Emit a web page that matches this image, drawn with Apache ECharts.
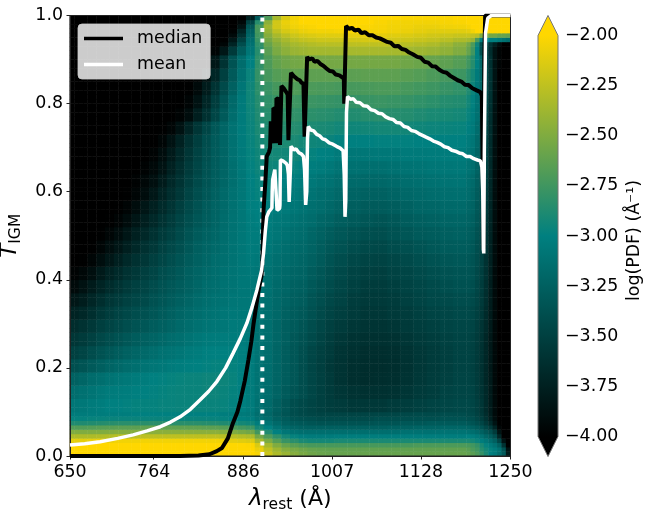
<!DOCTYPE html>
<html><head><meta charset="utf-8">
<style>html,body{margin:0;padding:0;background:#fff}#c{width:645px;height:513px}</style>
<script src="https://cdn.jsdelivr.net/npm/echarts@6/dist/echarts.min.js"></script>
</head><body><div id="c"></div>
<script>
var xTicks=[650,764,886,1007,1128,1250];
var lymanLimit=912;
// how many 6 A wavelength bins / 0.01 T bins each table cell covers
var colSpans=[2,2,2,2,2,2,2,2,2,2,2,2,2,2,2,2,2,2,2,2,2,2,2,2,2,2,2,2,2,2,3,3,3,3,3,3,3,3,3,3,1,1,1,1,1,1,1,1,1,1];
var rowSpans=[1,1,1,1,1,1,1,1,1,1,3,3,3,3,3,3,3,3,3,3,3,3,3,3,3,3,3,3,3,3,3,3,3,3,3,3,3,2,1,1,1,1,1,1,1];
// (log PDF + 4) * 100; rows from T=0 upward, columns from 650 A rightward
var pdfRows=[
[200,200,200,200,200,200,200,200,200,200,200,200,200,200,200,200,200,200,200,200,200, 197,180,168,160,152,147,143,141,140, 140,140,140,140,140,140,140,140,140,140, 138,135,130,120,110,100,95,85,70,20],
[200,200,200,200,200,200,200,200,200,200,200,200,200,200,200,200,200,200,200,200,200, 192,175,162,152,147,143,140,139,138, 138,138,138,138,138,138,138,138,138,138, 135,130,125,115,108,102,97,88,65,15],
[200,200,200,200,200,200,200,200,200,200,200,200,200,200,200,200,200,200,200,200,199, 185,165,150,140,134,130,128,128,128, 128,128,128,128,128,128,130,130,130,130, 128,125,120,110,102,95,88,75,40,0],
[190,190,191,192,193,195,195,195,195,195,195,195,195,195,195,195,195,193,190,188,186, 165,148,133,122,116,110,108,108,108, 110,110,110,110,110,110,110,110,110,110, 110,108,104,98,92,84,75,55,15,0],
[168,168,168,169,170,172,172,174,174,174,174,174,174,174,174,174,174,172,172,170,168, 145,130,118,108,102,98,96,96,96, 98,98,98,98,98,98,98,98,98,98, 100,98,94,88,80,72,60,30,0,0],
[150,150,150,150,151,152,152,152,154,154,154,154,154,154,154,154,154,152,150,147,144, 125,112,100,92,88,86,86,86,86, 86,86,86,86,86,88,88,88,90,90, 88,86,82,76,68,60,45,15,0,0],
[132,132,133,134,135,136,136,136,138,138,138,138,138,138,138,137,136,134,130,127,124, 108,100,90,82,78,75,74,74,74, 74,74,74,74,76,76,78,78,80,80, 78,75,70,64,55,45,28,5,0,0],
[112,112,113,114,115,116,116,116,116,116,116,116,116,116,116,115,114,112,110,108,106, 97,90,82,74,70,68,66,64,64, 64,64,64,66,66,68,68,70,70,70, 68,65,60,54,44,32,15,0,0,0],
[102,102,103,103,104,104,104,104,104,104,104,104,104,104,104,104,103,102,100,99,98, 90,84,76,70,64,62,60,58,58, 58,58,58,60,60,60,62,62,64,64, 62,60,55,48,38,25,10,0,0,0],
[96,96,97,97,98,98,98,99,100,100,100,100,100,100,100,100,100,98,96,95,94, 86,80,72,66,60,57,55,53,53, 53,53,53,54,55,56,58,58,60,60, 58,56,51,44,34,22,8,0,0,0],
[92,94,96,98,100,100,101,102,102,102,103,103,104,104,104,104,104,103,101,99,96, 88,82,74,67,60,56,53,50,48, 46,44,44,44,46,48,50,52,55,56, 56,54,49,42,32,21,8,0,0,0],
[85,88,91,94,96,97,98,99,100,101,102,103,104,104,104,105,105,104,102,100,96, 90,84,78,71,66,60,55,50,46, 42,40,38,38,39,42,45,48,52,54, 54,52,47,40,31,20,7,0,0,0],
[76,80,84,87,90,92,94,96,98,100,101,102,103,104,104,105,105,105,103,100,96, 90,85,79,73,67,60,55,50,45, 40,37,35,36,37,40,44,47,50,53, 53,51,46,39,30,20,7,0,0,0],
[62,66,70,74,78,81,84,87,90,92,94,96,98,99,100,101,102,102,102,100,96, 90,85,79,73,67,60,54,49,44, 40,37,35,35,36,39,43,46,49,52, 52,50,45,38,30,19,7,0,0,0],
[50,54,59,64,68,72,76,79,82,85,88,90,92,95,97,99,100,100,100,99,96, 90,85,79,73,67,61,55,50,46, 41,38,36,36,37,40,43,46,49,52, 52,50,45,38,30,19,7,0,0,0],
[42,46,51,56,60,64,68,72,75,78,81,84,87,90,93,95,96,97,97,97,95, 90,86,80,74,68,63,58,52,48, 43,40,38,38,39,42,45,48,51,53, 53,51,46,39,30,19,7,0,0,0],
[35,39,44,49,53,57,61,65,68,72,75,78,82,85,88,91,92,93,95,95,93, 90,86,80,74,70,66,60,55,50, 46,43,41,41,42,45,48,50,53,55, 55,53,48,41,32,20,7,0,0,0],
[27,31,37,43,48,52,56,60,63,67,71,75,79,82,85,88,90,92,94,94,93, 90,86,81,76,72,69,63,58,53, 49,46,43,43,45,47,50,53,55,57, 57,55,50,43,33,21,8,0,0,0],
[18,23,30,36,42,46,51,55,58,63,67,71,75,79,83,86,88,90,92,93,93, 90,87,82,78,74,72,66,61,56, 52,48,45,45,47,50,53,56,58,60, 60,58,53,45,35,22,8,0,0,0],
[8,14,21,28,34,40,45,50,54,59,64,68,72,76,80,84,86,89,91,93,93, 91,88,83,80,76,74,69,64,59, 55,51,47,47,49,52,55,58,61,63, 63,61,55,47,36,23,8,0,0,0],
[2,6,12,20,27,33,39,44,49,54,60,64,69,74,78,82,85,88,91,93,94, 92,89,85,82,79,77,72,67,62, 57,53,50,49,52,55,58,61,64,66, 66,63,57,49,38,24,8,0,0,0],
[0,1,5,11,18,25,32,38,43,49,55,60,66,71,76,80,84,87,90,93,95, 94,91,87,84,81,79,75,70,65, 60,56,53,52,55,58,61,64,67,69, 68,65,59,51,39,25,9,0,0,0],
[0,0,1,5,11,17,24,31,38,44,51,56,62,68,74,78,82,86,90,93,96, 95,93,89,86,83,81,77,73,68, 64,60,57,56,59,62,65,68,71,72, 71,68,61,53,41,26,9,0,0,0],
[0,0,0,1,5,10,17,25,31,38,45,51,58,65,71,76,80,85,89,93,97, 97,95,92,89,86,84,80,76,72, 68,65,62,61,64,67,70,72,74,76, 74,71,64,55,42,27,9,0,0,0],
[0,0,0,0,1,4,9,17,24,31,39,46,54,61,67,73,78,84,89,93,98, 99,97,94,92,89,87,84,80,77, 73,70,67,66,68,72,74,76,78,79, 77,74,67,57,44,28,10,0,0,0],
[0,0,0,0,0,1,4,10,17,25,33,41,49,57,64,71,77,83,88,93,99, 100,99,97,95,92,90,87,84,81, 77,74,71,71,73,76,79,80,82,83, 80,77,69,59,46,29,10,0,0,0],
[0,0,0,0,0,0,1,5,10,18,27,36,44,53,61,68,75,82,88,93,99, 102,102,100,98,95,93,90,87,85, 81,78,76,76,78,81,83,84,86,87, 84,80,72,61,48,30,10,0,0,0],
[0,0,0,0,0,0,0,2,6,12,21,31,40,49,58,66,73,80,87,93,100, 103,104,102,100,98,96,94,91,89, 85,83,81,81,83,85,87,88,90,91, 87,83,74,63,50,31,11,0,0,0],
[0,0,0,0,0,0,0,0,2,7,15,26,36,46,55,64,72,79,87,94,101, 105,106,105,103,102,100,98,96,94, 90,88,87,87,88,90,91,92,93,94, 90,86,77,65,51,32,11,0,0,0],
[0,0,0,0,0,0,0,0,0,3,10,20,31,42,52,62,71,79,88,95,102, 106,108,108,107,106,104,102,100,99, 95,93,93,94,94,95,95,96,97,97, 93,89,79,67,53,33,12,0,0,0],
[0,0,0,0,0,0,0,0,0,0,5,14,26,38,49,60,70,79,88,96,103, 108,110,111,111,110,108,106,105,104, 101,100,100,101,101,101,100,100,100,100, 96,92,82,69,54,34,12,0,0,0],
[0,0,0,0,0,0,0,0,0,0,1,5,14,28,42,55,68,79,89,97,104, 110,112,114,115,114,113,111,110,109, 107,106,107,108,108,107,106,105,104,103, 99,95,85,71,55,35,13,0,0,0],
[0,0,0,0,0,0,0,0,0,0,0,0,3,10,24,38,55,70,85,96,105, 112,115,118,119,119,118,117,116,115, 113,113,115,116,115,114,112,110,109,108, 103,98,88,74,57,36,13,0,0,0],
[0,0,0,0,0,0,0,0,0,0,0,0,0,4,14,30,48,65,82,95,106, 114,118,122,124,124,123,123,122,121, 120,120,122,123,122,121,119,117,114,113, 107,101,90,76,59,38,14,0,0,0],
[0,0,0,0,0,0,0,0,0,0,0,0,0,1,8,22,40,58,76,92,106, 117,122,127,130,131,130,130,129,129, 128,128,129,130,130,128,126,124,121,119, 112,105,93,78,60,39,14,0,0,0],
[0,0,0,0,0,0,0,0,0,0,0,0,0,0,3,13,30,50,70,88,104, 120,127,133,136,138,137,137,137,137, 136,136,137,137,137,135,133,130,127,124, 116,108,95,80,60,40,15,0,0,0],
[0,0,0,0,0,0,0,0,0,0,0,0,0,0,0,3,18,40,65,85,100, 118,130,139,143,145,146,146,146,146, 146,146,146,146,146,144,142,140,137,133, 125,115,100,80,58,38,14,3,0,0],
[0,0,0,0,0,0,0,0,0,0,0,0,0,0,0,0,3,18,45,72,92, 115,135,148,155,160,162,164,164,164, 164,165,166,166,165,164,162,160,156,150, 140,125,100,60,52,35,14,3,0,0],
[0,0,0,0,0,0,0,0,0,0,0,0,0,0,0,0,0,5,28,60,88, 118,140,152,160,165,168,170,172,172, 172,174,175,175,174,172,170,168,162,155, 145,130,105,60,55,40,25,10,0,0],
[0,0,0,0,0,0,0,0,0,0,0,0,0,0,0,0,0,1,18,50,85, 122,146,158,166,172,176,178,180,180, 180,182,184,184,182,180,178,176,172,168, 165,160,130,100,100,100,100,95,90,85],
[0,0,0,0,0,0,0,0,0,0,0,0,0,0,0,0,0,0,8,38,80, 125,152,166,174,180,184,186,188,188, 188,190,190,190,188,186,184,182,180,178, 178,176,172,150,145,145,145,140,140,138],
[0,0,0,0,0,0,0,0,0,0,0,0,0,0,0,0,0,0,2,28,75, 128,158,175,184,188,192,194,195,195, 196,198,196,196,194,192,190,188,188,188, 190,195,200,200,200,200,200,200,200,200],
[0,0,0,0,0,0,0,0,0,0,0,0,0,0,0,0,0,0,0,15,68, 128,162,182,190,194,197,198,200,200, 200,200,198,197,195,194,192,192,194,195, 197,200,200,200,200,200,200,200,200,200],
[0,0,0,0,0,0,0,0,0,0,0,0,0,0,0,0,0,0,0,6,52, 115,155,182,192,196,200,200,200,200, 200,200,200,198,196,195,195,195,197,198, 200,200,200,200,200,200,200,200,200,200],
[0,0,0,0,0,0,0,0,0,0,0,0,0,0,0,0,0,0,0,0,25, 70,130,165,185,195,200,200,200,200, 200,200,200,200,200,198,198,198,198,200, 200,200,200,200,200,200,200,200,200,200]
];
var medianCurve=[[650,0],[800,0],[825,.001],[840,.004],[850,.011],[857,.018],[865,.04],[872,.075],[878,.1],[882,.125],[888,.17],[893,.218],[897,.26],[900,.3],[904,.345],[907,.377],[911,.41],[912,.445],[913.6,.558],[916,.62],[918,.68],[921,.69],[922.5,.7],[923.5,.76],[925,.762],[926,.72],[926.5,.71],[927,.79],[930,.787],[930.6,.71],[931.2,.812],[935,.81],[936,.706],[937,.706],[938,.84],[941,.835],[945,.825],[946.5,.82],[947.5,.717],[949.5,.717],[951,.87],[955,.862],[957,.866],[960,.855],[963,.853],[965,.848],[968,.845],[969.5,.725],[971,.725],[973,.906],[976,.9],[980,.903],[983,.895],[987,.897],[991,.89],[995,.886],[999,.88],[1004,.874],[1008,.873],[1012,.866],[1017,.864],[1023,.857],[1023.5,.8],[1024.5,.8],[1026,.976],[1030,.97],[1034,.972],[1038,.966],[1043,.968],[1047,.96],[1052,.962],[1057,.955],[1062,.955],[1067,.95],[1072,.948],[1077,.944],[1082,.94],[1087,.938],[1092,.93],[1097,.931],[1102,.924],[1107,.922],[1112,.916],[1117,.912],[1123,.906],[1128,.904],[1133,.895],[1138,.893],[1143,.885],[1148,.884],[1153,.877],[1158,.872],[1163,.87],[1168,.863],[1173,.858],[1178,.853],[1183,.85],[1188,.843],[1193,.842],[1198,.835],[1204,.83],[1209,.826],[1211,.818],[1212,.67],[1213.3,.47],[1214.3,.9],[1215.5,1],[1250,1]];
var meanCurve=[[650,.025],[670,.028],[691,.0325],[715,.04],[736,.048],[755,.057],[773,.0665],[787,.077],[800,.089],[814,.106],[827,.127],[839,.147],[850,.169],[862,.2],[872,.233],[882,.267],[891,.302],[898,.338],[904.6,.377],[911,.422],[913.6,.46],[916,.51],[918,.543],[921,.555],[925,.563],[925.4,.6],[926,.627],[928,.63],[929,.65],[931,.65],[932,.558],[935.5,.562],[936,.57],[936.6,.672],[940,.67],[944,.665],[946,.66],[947.5,.64],[948.5,.577],[949.5,.58],[950.2,.65],[951,.703],[955,.695],[958,.697],[962,.688],[965,.686],[968,.68],[969.5,.65],[971,.57],[972.5,.6],[973.5,.72],[974.5,.748],[978,.74],[982,.738],[986,.73],[990,.727],[994,.72],[998,.718],[1003,.711],[1008,.708],[1013,.703],[1018,.699],[1022,.693],[1023.5,.64],[1024.6,.543],[1025.6,.58],[1026.6,.78],[1028,.816],[1032,.81],[1036,.811],[1040,.803],[1045,.802],[1050,.795],[1055,.794],[1060,.786],[1065,.784],[1070,.778],[1075,.777],[1080,.77],[1085,.766],[1090,.764],[1095,.757],[1100,.756],[1105,.748],[1110,.746],[1115,.739],[1120,.737],[1125,.732],[1130,.728],[1135,.724],[1140,.72],[1145,.715],[1150,.712],[1155,.708],[1160,.702],[1165,.7],[1170,.694],[1175,.692],[1180,.688],[1185,.686],[1190,.68],[1195,.68],[1200,.675],[1205,.672],[1209,.67],[1211,.656],[1212.2,.6],[1213,.47],[1213.6,.46],[1214.4,.7],[1216,.96],[1219,.994],[1224,1],[1250,1]];
var guideLine=[[lymanLimit,0],[lymanLimit,1]];

var heat=[];var yb=0;
rowSpans.forEach(function(rs,r){
  for(var j=0;j<rs;j++){
    var xb=0;
    colSpans.forEach(function(cs,c){
      for(var i=0;i<cs;i++){heat.push([xb,yb,-4+pdfRows[r][c]/100]);xb++;}
    });
    yb++;
  }
});
var bins=[];for(var b=0;b<100;b++)bins.push(b);
var F='"DejaVu Sans"';
var TEAL='#008080',GOLD='#ffd700';
var FS=17.4;
var chart=echarts.init(document.getElementById('c'),null,{renderer:'canvas'});
var G={left:70,top:15.5,width:440.5,height:440.5,outerBoundsMode:'none',containLabel:false};
chart.setOption({
  animation:false,
  textStyle:{fontFamily:F,color:'#000'},
  grid:[
    Object.assign({},G),
    Object.assign({show:true,backgroundColor:'transparent',borderColor:'#222',borderWidth:1,z:3},G),
    {left:538,top:35.5,width:20,height:401,outerBoundsMode:'none',containLabel:false}
  ],
  xAxis:[
    {type:'category',gridIndex:0,data:bins,show:false},
    {type:'value',gridIndex:1,min:650,max:1250,splitLine:{show:false},z:5,
     axisLine:{show:true,onZero:false,lineStyle:{color:'#222',width:1}},
     axisTick:{show:true,length:3.5,customValues:xTicks,lineStyle:{color:'#222',width:1}},
     axisLabel:{customValues:xTicks,fontSize:FS,color:'#000',margin:8,fontFamily:F,hideOverlap:false,showMinLabel:true,showMaxLabel:true,formatter:function(v){return String(v);}},
     name:'{l|\u03bb}{s|rest}{r| (\u00c5)}',nameLocation:'middle',nameGap:29,
     nameTextStyle:{rich:{l:{fontSize:23,fontStyle:'italic',fontFamily:F,color:'#000'},s:{fontSize:15.5,fontFamily:F,color:'#000',verticalAlign:'bottom',lineHeight:28},r:{fontSize:22,fontFamily:F,color:'#000'}}}},
    {type:'value',gridIndex:2,min:0,max:1,show:false}
  ],
  yAxis:[
    {type:'category',gridIndex:0,data:bins,show:false},
    {type:'value',gridIndex:1,min:0,max:1,interval:0.2,splitLine:{show:false},z:5,
     axisLine:{show:true,onZero:false,lineStyle:{color:'#222',width:1}},
     axisTick:{show:true,length:3.5,lineStyle:{color:'#222',width:1}},
     axisLabel:{fontSize:FS,color:'#000',margin:7,fontFamily:F,formatter:function(v){return v.toFixed(1);}},
     name:'{t|T}{s|IGM}',nameLocation:'middle',nameGap:35,nameRotate:90,
     nameTextStyle:{rich:{t:{fontSize:23,fontStyle:'italic',fontFamily:F,color:'#000'},s:{fontSize:15.5,fontFamily:F,color:'#000',verticalAlign:'bottom',lineHeight:28}}}},
    {type:'value',gridIndex:2,min:-4,max:-2,interval:0.25,position:'right',splitLine:{show:false},
     axisLine:{show:false},
     axisTick:{show:true,length:3.5,lineStyle:{color:'#222',width:1}},
     axisLabel:{fontSize:FS,color:'#000',margin:7,fontFamily:F,formatter:function(v){return '\u2212'+Math.abs(v).toFixed(2);}},
     name:'log(PDF) (\u00c5\u207b\u00b9)',nameLocation:'middle',nameGap:68,nameRotate:90,
     nameTextStyle:{fontSize:FS,fontFamily:F,color:'#000',padding:[0,9,0,0]}}
  ],
  visualMap:{show:false,type:'continuous',min:-4,max:-2,seriesIndex:0,dimension:2,inRange:{color:['#000000',TEAL,GOLD]}},
  legend:{left:78,top:24,orient:'vertical',data:[{name:'median',icon:'rect',itemStyle:{color:'#000',borderWidth:0}},{name:'mean',icon:'rect',itemStyle:{color:'#fff',borderWidth:0}}],padding:[6,8,6,6],itemWidth:39,itemHeight:3.5,itemGap:9,
    backgroundColor:'rgba(255,255,255,0.8)',borderColor:'rgba(204,204,204,0.8)',borderWidth:1,borderRadius:4,z:10,
    textStyle:{fontSize:FS,color:'#000',fontFamily:F,padding:[0,0,0,9]}},
  series:[
    {type:'heatmap',xAxisIndex:0,yAxisIndex:0,data:heat,z:1,silent:true,progressive:0,itemStyle:{borderWidth:0}},
    {type:'line',xAxisIndex:1,yAxisIndex:1,data:guideLine,symbol:'none',z:4,lineStyle:{color:'#fff',width:4,type:[4,6.6]}},
    {type:'line',name:'median',xAxisIndex:1,yAxisIndex:1,data:medianCurve,symbol:'none',z:5,lineStyle:{color:'#000',width:4},itemStyle:{color:'#000'}},
    {type:'line',name:'mean',xAxisIndex:1,yAxisIndex:1,data:meanCurve,symbol:'none',z:6,lineStyle:{color:'#fff',width:3.5},itemStyle:{color:'#fff'}},
    {type:'custom',xAxisIndex:2,yAxisIndex:2,clip:false,data:[[0,-2]],silent:true,z:2,
     renderItem:function(p,api){
       var b=api.coord([0,-2]),c=api.coord([1,-2]),d=api.coord([1,-4]),e=api.coord([0,-4]),f=api.coord([0.5,-4.1]),g=api.coord([0.5,-1.9]);
       return {type:'polygon',shape:{points:[b,g,c,d,f,e]},style:{
         stroke:'#777',lineWidth:1,
         fill:new echarts.graphic.LinearGradient(0,0,0,1,[{offset:0,color:GOLD},{offset:0.0454,color:GOLD},{offset:0.5,color:TEAL},{offset:0.9546,color:'#000'},{offset:1,color:'#000'}])}};
     }}
  ]
});
</script></body></html>
